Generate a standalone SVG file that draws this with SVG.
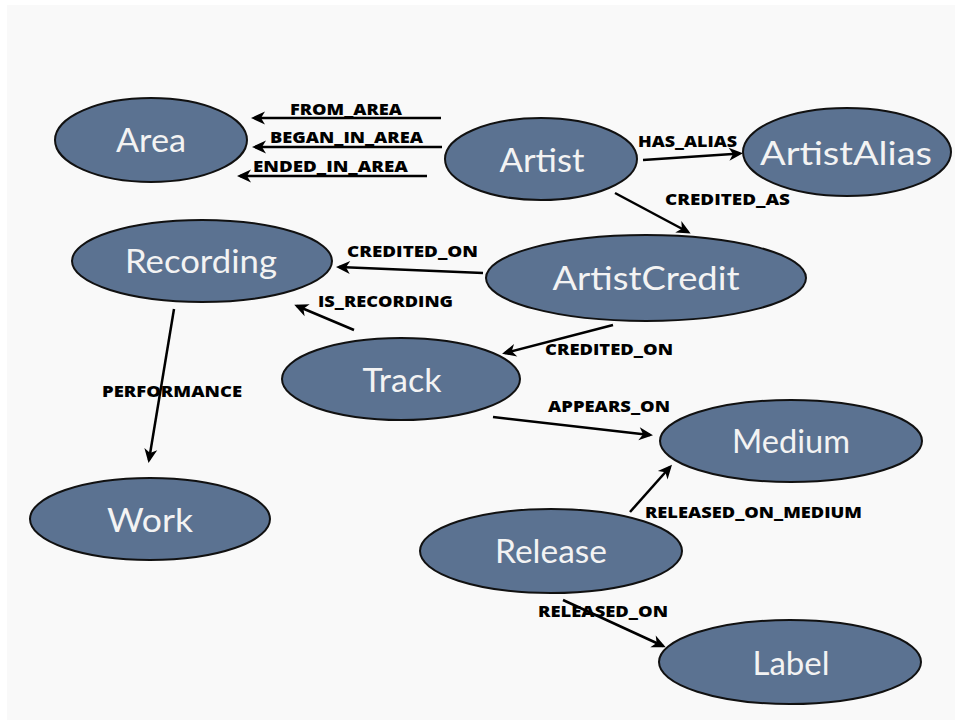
<svg xmlns="http://www.w3.org/2000/svg" width="955" height="720" viewBox="0 0 955 720">
  <defs>
    <style>
      .node ellipse { fill: #5b7291; stroke: #111; stroke-width: 2; }
      .node text { fill: #f3f3f3; font-family: Lato, "Open Sans", sans-serif; font-size: 32px; text-anchor: middle; }
      .edge line { stroke: #000; stroke-width: 2.5; marker-end: url(#arrow); }
      .edge text { fill: #000; font-family: "Open Sans", "DejaVu Sans", sans-serif; font-weight: 800; font-size: 15px; }
    </style>
    <marker id="arrow" markerUnits="userSpaceOnUse" viewBox="-12 -7 15 14" refX="0" refY="0" markerWidth="15" markerHeight="14" orient="auto">
      <path d="M3,0 L-11,-6.5 L-7,0 L-11,6.5 Z" fill="#000"/>
    </marker>
  </defs>

  <rect x="0" y="0" width="955" height="720" fill="#ffffff"/>
  <rect x="7" y="5" width="948" height="715" fill="#f9f9f9"/>

  <g id="connectors">
    <g class="edge" id="e-from-area">
      <line x1="441" y1="118" x2="254" y2="118"/>
      <text x="290" y="115" textLength="112" lengthAdjust="spacingAndGlyphs">FROM_AREA</text>
    </g>
    <g class="edge" id="e-began-in-area">
      <line x1="442" y1="147" x2="255" y2="147"/>
      <text x="270" y="143" textLength="153" lengthAdjust="spacingAndGlyphs">BEGAN_IN_AREA</text>
    </g>
    <g class="edge" id="e-ended-in-area">
      <line x1="427" y1="176" x2="240" y2="176"/>
      <text x="253" y="172" textLength="155" lengthAdjust="spacingAndGlyphs">ENDED_IN_AREA</text>
    </g>
    <g class="edge" id="e-has-alias">
      <line x1="643" y1="160" x2="740" y2="153.5"/>
      <text x="638" y="147" textLength="99" lengthAdjust="spacingAndGlyphs">HAS_ALIAS</text>
    </g>
    <g class="edge" id="e-credited-as">
      <line x1="615" y1="193" x2="688" y2="232"/>
      <text x="665" y="205" textLength="125" lengthAdjust="spacingAndGlyphs">CREDITED_AS</text>
    </g>
    <g class="edge" id="e-credited-on-recording">
      <line x1="483" y1="273" x2="339" y2="267"/>
      <text x="347" y="257" textLength="131" lengthAdjust="spacingAndGlyphs">CREDITED_ON</text>
    </g>
    <g class="edge" id="e-is-recording">
      <line x1="354" y1="330" x2="297" y2="306"/>
      <text x="318" y="307" textLength="135" lengthAdjust="spacingAndGlyphs">IS_RECORDING</text>
    </g>
    <g class="edge" id="e-credited-on-track">
      <line x1="613" y1="325" x2="505" y2="353"/>
      <text x="545" y="355" textLength="128" lengthAdjust="spacingAndGlyphs">CREDITED_ON</text>
    </g>
    <g class="edge" id="e-appears-on">
      <line x1="493" y1="417" x2="650" y2="435"/>
      <text x="548" y="412" textLength="122" lengthAdjust="spacingAndGlyphs">APPEARS_ON</text>
    </g>
    <g class="edge" id="e-performance">
      <line x1="174" y1="309" x2="149" y2="460"/>
      <text x="102" y="397" textLength="140" lengthAdjust="spacingAndGlyphs">PERFORMANCE</text>
    </g>
    <g class="edge" id="e-released-on-medium">
      <line x1="630" y1="512" x2="670" y2="467"/>
      <text x="645" y="518" textLength="217" lengthAdjust="spacingAndGlyphs">RELEASED_ON_MEDIUM</text>
    </g>
    <g class="edge" id="e-released-on">
      <line x1="563" y1="600" x2="663" y2="646"/>
      <text x="538" y="617" textLength="130" lengthAdjust="spacingAndGlyphs">RELEASED_ON</text>
    </g>
  </g>

  <g class="node" id="area">
    <ellipse cx="151" cy="140" rx="96" ry="42"/>
    <text x="151" y="152" textLength="70" lengthAdjust="spacingAndGlyphs">Area</text>
  </g>
  <g class="node" id="artist">
    <ellipse cx="541" cy="159" rx="96" ry="41"/>
    <text x="542" y="172" textLength="85" lengthAdjust="spacingAndGlyphs">Artist</text>
  </g>
  <g class="node" id="artist-alias">
    <ellipse cx="847" cy="152" rx="104" ry="44"/>
    <text x="846" y="165" textLength="172" lengthAdjust="spacingAndGlyphs">ArtistAlias</text>
  </g>
  <g class="node" id="recording">
    <ellipse cx="202" cy="261" rx="130" ry="41"/>
    <text x="201" y="273" textLength="152" lengthAdjust="spacingAndGlyphs">Recording</text>
  </g>
  <g class="node" id="artist-credit">
    <ellipse cx="646" cy="278" rx="160" ry="43"/>
    <text x="646" y="290" textLength="187" lengthAdjust="spacingAndGlyphs">ArtistCredit</text>
  </g>
  <g class="node" id="track">
    <ellipse cx="401" cy="379" rx="119" ry="41"/>
    <text x="402" y="392" textLength="79" lengthAdjust="spacingAndGlyphs">Track</text>
  </g>
  <g class="node" id="medium">
    <ellipse cx="791" cy="441" rx="131" ry="41"/>
    <text x="791" y="453" textLength="118" lengthAdjust="spacingAndGlyphs">Medium</text>
  </g>
  <g class="node" id="work">
    <ellipse cx="150" cy="519" rx="120" ry="41"/>
    <text x="150" y="532" textLength="86" lengthAdjust="spacingAndGlyphs">Work</text>
  </g>
  <g class="node" id="release">
    <ellipse cx="551" cy="551" rx="131" ry="42"/>
    <text x="551" y="563" textLength="112" lengthAdjust="spacingAndGlyphs">Release</text>
  </g>
  <g class="node" id="label">
    <ellipse cx="790" cy="662" rx="131" ry="42"/>
    <text x="791" y="675" textLength="77" lengthAdjust="spacingAndGlyphs">Label</text>
  </g>
</svg>
